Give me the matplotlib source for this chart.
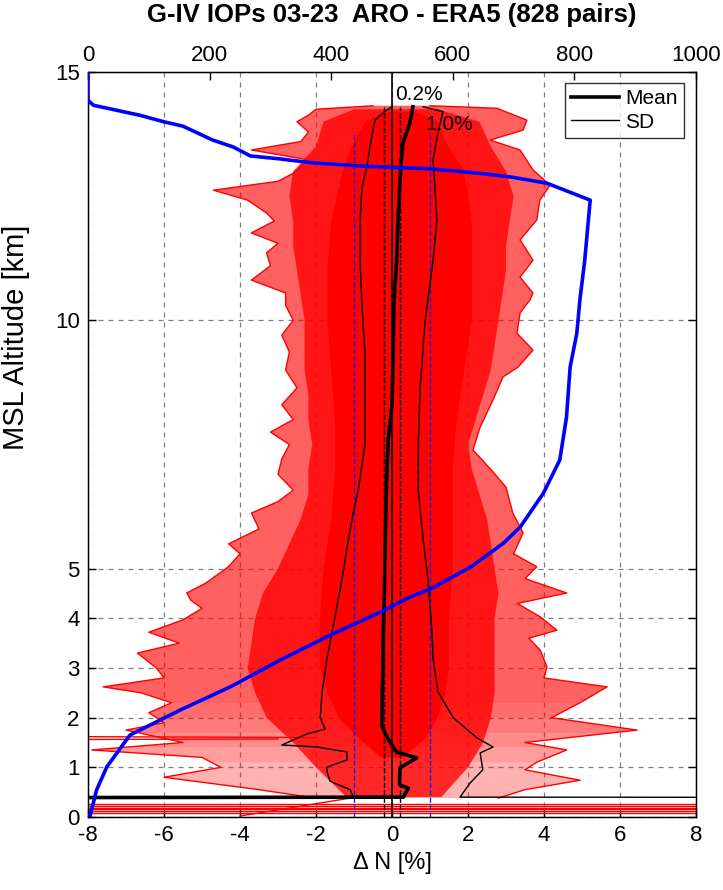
import matplotlib
matplotlib.use('Agg')
import matplotlib.pyplot as plt
from matplotlib.patches import Rectangle
import numpy as np

plt.rcParams['font.family'] = ['Liberation Sans', 'DejaVu Sans']
plt.rcParams['axes.unicode_minus'] = False

# ---------------- data ----------------
# outer envelope of the red ARO-ERA5 profiles (extreme lines)
outer_left_alt = [0.38, 0.55, 0.8, 1.0, 1.2, 1.35, 1.5, 1.75, 1.9, 2.1, 2.3, 2.5, 2.62, 2.8, 3.0,
                  3.3, 3.5, 3.72, 3.97, 4.2, 4.37, 4.51, 4.71, 5.04, 5.3, 5.5, 5.8, 6.12, 6.35,
                  6.58, 6.9, 7.21, 7.5, 7.75, 8.0, 8.3, 8.64, 9.0, 9.36, 9.7, 10.0, 10.3, 10.55,
                  10.81, 11.1, 11.36, 11.55, 11.76, 12.0, 12.16, 12.42, 12.62, 12.8, 12.96, 13.23,
                  13.43, 13.6, 13.79, 14.0, 14.13, 14.25, 14.32]
outer_left = [-2.0, -3.5, -6.0, -4.5, -5.0, -7.9, -5.5, -7.0, -6.0, -6.4, -5.8, -6.6, -7.6, -6.0,
              -6.2, -6.7, -5.6, -6.4, -5.5, -5.0, -5.3, -5.4, -4.9, -4.3, -4.0, -4.3, -3.5, -3.7,
              -3.0, -2.6, -3.0, -2.9, -2.7, -3.2, -2.6, -2.9, -2.5, -2.8, -2.7, -2.9, -2.6, -2.8,
              -2.8, -3.7, -3.2, -3.3, -3.0, -3.7, -3.1, -3.3, -3.8, -4.7, -3.0, -2.6, -2.2, -3.7,
              -2.4, -2.2, -2.5, -2.2, -2.0, -0.5]
outer_right_alt = [0.38, 0.55, 0.74, 0.95, 1.1, 1.35, 1.5, 1.75, 2.0, 2.3, 2.62, 2.8, 3.02, 3.36,
                   3.6, 3.76, 4.03, 4.3, 4.51, 4.8, 5.04, 5.3, 5.72, 6.12, 6.64, 7.0, 7.39, 7.85,
                   8.4, 8.86, 9.06, 9.4, 9.74, 10.15, 10.41, 10.55, 10.87, 11.21, 11.62, 12.02,
                   12.42, 12.72, 13.03, 13.43, 13.63, 13.83, 14.03, 14.27, 14.32]
outer_right = [2.8, 3.5, 4.95, 3.5, 3.8, 4.6, 3.5, 6.45, 4.2, 4.95, 5.66, 4.0, 4.08, 3.9, 3.6,
               4.34, 3.9, 3.3, 4.6, 3.5, 3.81, 3.2, 3.45, 3.18, 3.0, 2.6, 2.13, 2.32, 2.66, 2.92,
               3.32, 3.71, 3.29, 3.37, 3.63, 3.71, 3.37, 3.71, 3.37, 3.81, 3.89, 4.16, 3.71, 3.37,
               2.58, 3.45, 3.55, 2.76, 1.0]

# dense part of the profile cloud
mid_alt = [0.4, 1.0, 1.5, 2.0, 2.5, 3.0, 3.5, 4.0, 4.5, 5.0, 5.5, 6.0, 6.5, 7.0, 7.5, 8.0, 8.5,
           9.0, 9.5, 10.0, 10.5, 11.0, 11.5, 12.0, 12.5, 13.0, 13.5, 14.0, 14.25]
mid_left = [-1.2, -2.0, -2.6, -3.3, -3.6, -3.8, -3.7, -3.6, -3.4, -3.0, -2.7, -2.4, -2.2, -2.2,
            -2.1, -2.2, -2.2, -2.3, -2.3, -2.3, -2.4, -2.5, -2.6, -2.6, -2.7, -2.6, -2.0, -1.8, -1.0]
mid_right = [1.3, 2.0, 2.4, 2.6, 2.7, 2.7, 2.7, 2.7, 2.8, 2.7, 2.6, 2.5, 2.3, 2.1, 2.0, 2.2, 2.4,
             2.6, 2.7, 2.8, 2.9, 3.0, 3.0, 3.1, 3.2, 3.0, 2.6, 2.3, 1.2]

# solid core of the cloud
core_alt = [1.2, 1.6, 2.0, 2.5, 3.0, 4.0, 5.0, 6.0, 7.0, 8.0, 9.0, 10.0, 11.0, 12.0, 13.0, 13.6,
            14.0, 14.2]
core_left = [-0.3, -0.9, -1.4, -1.7, -1.9, -1.9, -1.8, -1.6, -1.5, -1.5, -1.6, -1.7, -1.7, -1.6,
             -1.3, -1.0, -0.7, -0.2]
core_right = [0.3, 0.9, 1.2, 1.4, 1.5, 1.5, 1.6, 1.6, 1.6, 1.7, 1.9, 2.1, 2.1, 2.1, 1.9, 1.4, 1.2, 0.6]

# altitudes above which the profiles get denser (low levels are sparse)
density_steps = [1.1, 1.4, 1.7, 2.0, 2.3]

# profiles whose lowest values run off scale
flat_alts = [0.08, 0.12, 0.16, 0.19, 0.22, 0.26]
extra_x = [[-9.0, -2.0], [-9.0, -3.0], [-4.0, -1.1]]
extra_alt = [[1.62, 1.60], [1.56, 1.57], [0.02, 0.38]]

# mean and mean +/- SD
mean_alt = [14.3, 14.1, 13.97, 13.6, 13.37, 12.83, 12.02, 11.2, 10.3, 9.3, 8.3, 7.6, 6.6, 5.5,
            4.5, 3.76, 3.0, 2.4, 1.85, 1.71, 1.5, 1.31, 1.19, 0.99, 0.8, 0.65, 0.58, 0.4, 0.37]
mean_val = [0.55, 0.5, 0.47, 0.3, 0.26, 0.21, 0.16, 0.12, 0.05, 0.03, 0.0, -0.1, -0.15, -0.18,
            -0.2, -0.23, -0.24, -0.26, -0.27, -0.2, -0.05, 0.12, 0.65, 0.21, 0.2, 0.2, 0.43, 0.3, -30]
sdl_alt = [14.3, 14.2, 14.03, 13.49, 13.09, 12.68, 12.02, 11.2, 10.3, 9.3, 7.5, 6.58, 6.12, 5.44,
           4.77, 4.03, 3.2, 2.52, 2.0, 1.77, 1.67, 1.45, 1.41, 1.31, 1.15, 1.0, 0.89, 0.72, 0.55,
           0.4, 0.37]
sdl_val = [0.0, -0.2, -0.45, -0.58, -0.66, -0.79, -0.84, -0.84, -0.79, -0.71, -0.71, -0.89, -1.02,
           -1.18, -1.32, -1.5, -1.71, -1.84, -1.89, -1.76, -2.25, -2.9, -1.98, -1.19, -1.18, -1.72,
           -1.7, -1.63, -1.1, -1.02, -60]
sdr_alt = [14.3, 14.2, 13.77, 13.23, 12.68, 12.02, 11.2, 9.97, 8.64, 7.49, 6.58, 5.58, 4.77, 3.76,
           3.2, 2.52, 2.0, 1.59, 1.41, 1.29, 0.95, 0.68, 0.4, 0.37]
sdr_val = [0.82, 1.34, 1.21, 1.08, 1.13, 1.18, 1.08, 0.87, 0.74, 0.69, 0.69, 0.82, 0.95, 1.05,
           1.08, 1.21, 1.61, 2.24, 2.66, 2.32, 2.39, 2.05, 1.79, 60]

# number of pairs vs altitude (top axis)
cnt_alt = [0, 0.54, 1.01, 1.65, 2.15, 2.62, 3.16, 3.66, 4.12, 4.43, 4.59, 5.03, 5.51, 5.84, 6.52,
           7.19, 8.05, 9.06, 9.74, 10.41, 11.21, 12.42, 12.76, 12.88, 12.96, 13.05, 13.1, 13.17,
           13.25, 13.31, 13.49, 13.63, 13.91, 14.0, 14.13, 14.33, 14.43, 15.0]
cnt_val = [3, 14, 31, 69, 151, 234, 316, 398, 480, 530, 563, 629, 683, 711, 749, 776, 787, 793,
           804, 809, 817, 826, 755, 699, 645, 563, 458, 370, 316, 267, 239, 205, 156, 124, 85, 9,
           0, 0]

ref_pct = [0.2, 1.0]
ref_top = [14.3, 13.8]

x_ticks = [-8, -6, -4, -2, 0, 2, 4, 6, 8]
y_ticks = [0, 1, 2, 3, 4, 5, 10, 15]
top_ticks = [0, 200, 400, 600, 800, 1000]

# ---------------- figure ----------------
fig = plt.figure(figsize=(7.23, 8.9), dpi=100)
ax = fig.add_axes([88/723, 1-817/890, 608/723, 745/890])
ax.set_xlim(-8, 8)
ax.set_ylim(0, 15)

# red profile cloud
outer_x = np.r_[outer_left, outer_right[::-1]]
outer_y = np.r_[outer_left_alt, outer_right_alt[::-1]]

# sparse low levels, getting denser upward in a few soft steps
ax.fill(outer_x, outer_y, color='red', alpha=0.3, lw=0, zorder=1)
for k, a0 in enumerate(density_steps):
    clip = Rectangle((-20, a0), 40, 20, transform=ax.transData)
    for p in ax.fill(outer_x, outer_y, color='red', alpha=0.115, lw=0, zorder=1.01 + 0.01 * k):
        p.set_clip_path(clip)
ax.plot(outer_left, outer_left_alt, color='red', lw=1.0, zorder=1.2)
ax.plot(outer_right, outer_right_alt, color='red', lw=1.0, zorder=1.2)
ax.fill(np.r_[mid_left, mid_right[::-1]], np.r_[mid_alt, mid_alt[::-1]],
        color='red', alpha=0.78, lw=0, zorder=1.3)
ax.fill(np.r_[core_left, core_right[::-1]], np.r_[core_alt, core_alt[::-1]],
        color='red', alpha=1.0, lw=0, zorder=1.4)
ax.hlines(flat_alts, -8, 8, color='red', lw=1.0, zorder=1.5)
for xs, ys in zip(extra_x, extra_alt):
    ax.plot(xs, ys, color='red', lw=1.0, zorder=1.5)

# reference lines
ax.plot([0, 0], [0, 15], color='black', lw=1.2, zorder=3)
ax.plot([-ref_pct[0], -ref_pct[0]], [0, ref_top[0]], 'k--', lw=1.0, zorder=3)
ax.plot([ref_pct[0], ref_pct[0]], [0, ref_top[0]], 'k--', lw=1.0, zorder=3)
ax.plot([-ref_pct[1], -ref_pct[1]], [0, ref_top[1]], '--', color='#2020d0', lw=1.0, zorder=3)
ax.plot([ref_pct[1], ref_pct[1]], [0, ref_top[1]], '--', color='#2020d0', lw=1.0, zorder=3)
ax.text(0.08, 14.54, '0.2%', fontsize=15, va='center', ha='left', zorder=4)
ax.text(0.87, 13.95, '1.0%', fontsize=15, va='center', ha='left', zorder=4)

# mean and SD
l_mean, = ax.plot(mean_val, mean_alt, color='black', lw=2.6, zorder=5, label='Mean')
l_sd, = ax.plot(sdl_val, sdl_alt, color='black', lw=1.0, zorder=5, label='SD')
ax.plot(sdr_val, sdr_alt, color='black', lw=1.0, zorder=5)

# axes styling
ax.set_xticks(x_ticks)
ax.set_xticklabels([str(v) for v in x_ticks])
ax.set_yticks(y_ticks)
ax.set_yticklabels([str(v) for v in y_ticks])
ax.tick_params(direction='in', length=6, width=1, labelsize=16, top=True, right=True,
               labeltop=False, pad=6)
ax.grid(True, linestyle=(0, (4, 4)), color='#808080', lw=0.9)
ax.set_axisbelow(True)
ax.set_xlabel('\u0394 N [%]', fontsize=17, labelpad=4)
ax.set_ylabel('MSL Altitude [km]', fontsize=21)
ax.yaxis.set_label_coords(-0.095, (817-337)/745)
for s in ax.spines.values():
    s.set_linewidth(1.0)

leg = ax.legend(handles=[l_mean, l_sd], loc='upper right', bbox_to_anchor=(0.980, 0.985),
                borderaxespad=0, fontsize=15, frameon=True, fancybox=False, edgecolor='black',
                handlelength=2.3, handletextpad=0.3, borderpad=0.3, labelspacing=0.2)
leg.get_frame().set_linewidth(1.0)
leg.set_zorder(10)

# top axis: number of pairs
ax2 = ax.twiny()
ax2.set_xlim(0, 1000)
ax2.plot(cnt_val, cnt_alt, color='blue', lw=2.6, zorder=6)
ax2.set_xticks(top_ticks)
ax2.set_xticklabels([str(v) for v in top_ticks])
ax2.tick_params(direction='in', length=6, width=1, labelsize=16, pad=4)
ax2.set_ylim(0, 15)

fig.suptitle('G-IV IOPs 03-23  ARO - ERA5 (828 pairs)', fontsize=18.5, fontweight='bold',
             x=392/723, y=1-15/890, va='center')

fig.savefig('out.png', dpi=100)
